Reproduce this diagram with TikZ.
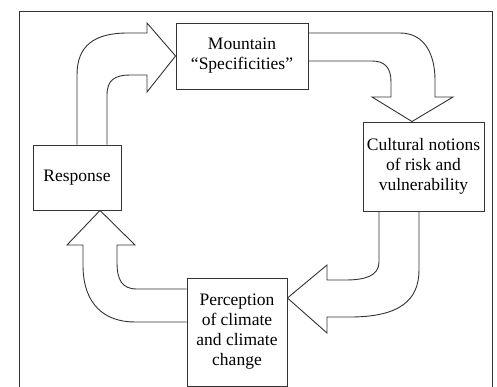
\documentclass[tikz,border=0pt]{standalone}
\usepackage{fontspec}
\setmainfont{Liberation Serif}
\begin{document}
\begin{tikzpicture}[x=1pt,y=-1pt,
  ln/.style={draw=black!80,line width=0.9pt,line join=miter},
  box/.style={ln,rectangle,align=center,inner sep=0pt,font=\fontsize{17.5}{20}\selectfont,fill=white},
  barrow/.style={ln}]
\useasboundingbox (0,0) rectangle (497,387);
\fill[white] (0,0) rectangle (497,387);
\draw[ln] (19,392) -- (19,11) -- (492,11) -- (492,392);
\node[box,minimum width=132,minimum height=66] (mtn) at (242,56) {Mountain\\“Specificities”};
\node[box,minimum width=88,minimum height=65] (resp) at (77,177.5) {Response};
\node[box,minimum width=121,minimum height=89] (cult) at (423.5,166.5) {Cultural notions\\of risk and\\vulnerability};
\node[box,minimum width=100,minimum height=108] (perc) at (237,332) {Perception\\of climate\\and climate\\change};
% Response -> Mountain
\draw[barrow] (resp.north -| 107,0) -- (107,95) .. controls (107,80) and (115,75) .. (130,75) -- (147,75) -- (147,92) -- (mtn.west) -- (147,23) -- (147,33) -- (128,33) .. controls (95,33) and (77,45) .. (77,75) -- (resp.north -| 77,0);
% Mountain -> Cultural
\draw[barrow] (mtn.east |- 0,33) -- (400,33) .. controls (425,33) and (435,55) .. (435,80) -- (435,97) -- (453,97) -- (cult.north -| 412,0) -- (372,97) -- (391,97) -- (391,82) .. controls (391,68) and (385,61) .. (372,61) -- (mtn.east |- 0,61);
% Cultural -> Perception
\draw[barrow] (cult.south -| 379,0) -- (379,262) .. controls (379,276) and (365,280) .. (345,280) -- (327,280) -- (327,265) -- (perc.east |- 0,298) -- (327,333) -- (327,317) -- (350,317) .. controls (400,317) and (419,300) .. (419,270) -- (cult.south -| 419,0);
% Perception -> Response
\draw[barrow] (perc.west |- 0,289) -- (137,289) .. controls (122,289) and (117,280) .. (117,262) -- (117,245) -- (135,245) -- (resp.south -| 100,0) -- (67,245) -- (83,245) -- (83,265) .. controls (83,305) and (105,322) .. (135,322) -- (perc.west |- 0,322);
\end{tikzpicture}
\end{document}
